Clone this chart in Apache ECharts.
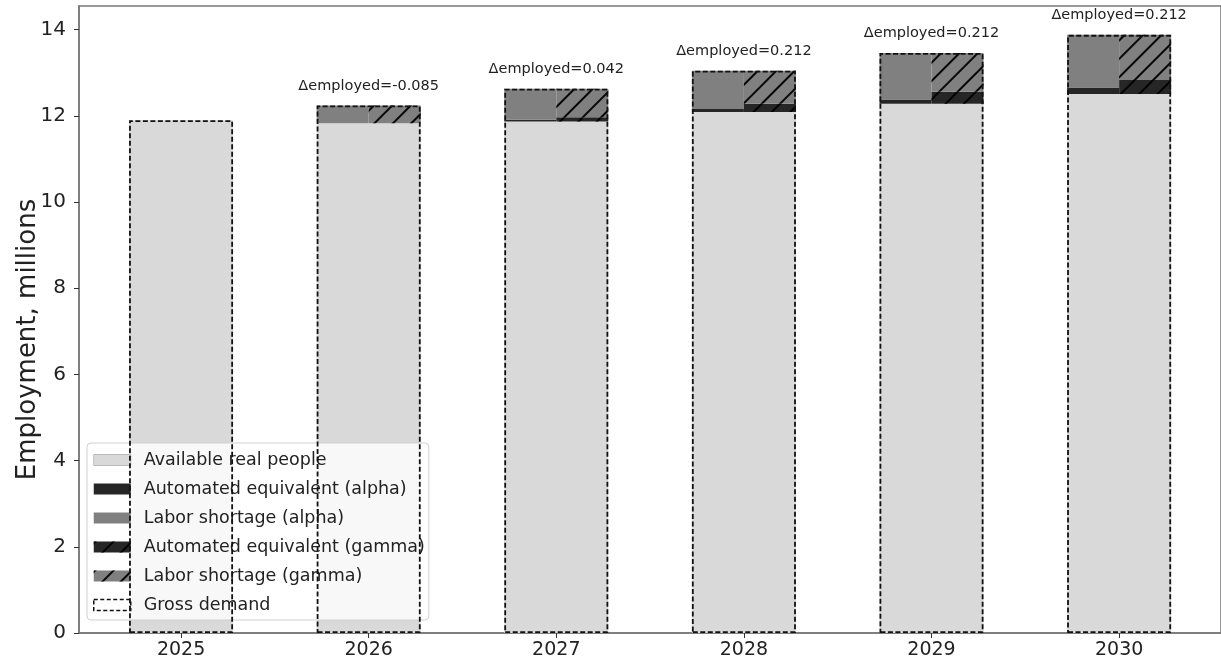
<!DOCTYPE html>
<html>
<head>
<meta charset="utf-8">
<title>Employment</title>
<script src="https://cdn.jsdelivr.net/npm/echarts@6/dist/echarts.min.js"></script>
<style>
  html, body { margin: 0; padding: 0; background: #fff; }
  #chart { width: 1221px; height: 672px; }
</style>
</head>
<body>
<div id="chart"></div>
<script>
// data (millions)
var years = ['2025', '2026', '2027', '2028', '2029', '2030']
var availablePeople = [11.90, 11.83, 11.87, 12.09, 12.28, 12.51]
var automatedAlpha = [0, 0, 0.04, 0.07, 0.10, 0.15]
var shortageAlpha = [0, 0.41, 0.72, 0.89, 1.08, 1.22]
var automatedGamma = [0, 0, 0.10, 0.19, 0.28, 0.32]
var shortageGamma = [0, 0.41, 0.66, 0.77, 0.90, 1.05]
var grossDemand = [11.90, 12.24, 12.63, 13.05, 13.46, 13.88]
var deltaLabels = ['', '\u0394employed=-0.085', '\u0394employed=0.042', '\u0394employed=0.212', '\u0394employed=0.212', '\u0394employed=0.212']
var yTicks = [0, 2, 4, 6, 8, 10, 12, 14]

var FONT = 'DejaVu Sans'
var C_LIGHT = '#d9d9d9'
var C_DARK = '#262626'
var C_MID = '#808080'
var AXIS = '#777'
var NONE = 'rgba(0,0,0,0)'

// [value, yearIndex] pairs; value comes first so the stack runs on y
// (x is a value axis too, so the plot can run past the last bar like matplotlib)
function pairs (arr) {
  return arr.map(function (v, i) { return [v, i] })
}

var hatch = {
  symbol: 'rect',
  symbolSize: 1,
  color: 'rgba(0,0,0,0.95)',
  dashArrayX: [1, 0],
  dashArrayY: [1.8, 10.2],
  rotation: -Math.PI / 4
}

// one half of a year's bar: alpha stack on the left, gamma stack on the right
function half (name, stack, data, color, decal) {
  var s = {
    name: name,
    type: 'bar',
    stack: stack,
    xAxisIndex: 0,
    encode: { x: 1, y: 0 },
    barWidth: 52,
    barGap: 0,
    silent: true,
    itemStyle: { color: color, borderWidth: 0 },
    data: pairs(data)
  }
  if (decal) s.itemStyle.decal = decal
  return s
}

// full-width bar on the second (hidden) x axis
function full (name, data, extra) {
  return Object.assign({
    name: name,
    type: 'bar',
    xAxisIndex: 1,
    encode: { x: 1, y: 0 },
    barWidth: 104,
    barGap: '-100%',
    silent: true,
    data: pairs(data)
  }, extra)
}

var chart = echarts.init(document.getElementById('chart'))

var xBase = {
  type: 'value',
  min: -0.544,
  max: 5.543,
  splitLine: { show: false }
}

chart.setOption({
  animation: false,
  grid: {
    left: 79,
    right: 0,
    top: 6,
    bottom: 39,
    outerBoundsMode: 'none',
    containLabel: false,
    show: true,
    borderColor: AXIS,
    borderWidth: 1.5,
    backgroundColor: 'transparent'
  },
  legend: {
    orient: 'vertical',
    left: 87,
    top: 443,
    padding: [8, 4, 6, 6],
    itemWidth: 37,
    itemHeight: 11,
    itemGap: 11,
    icon: 'rect',
    backgroundColor: 'rgba(255,255,255,0.82)',
    borderColor: '#d0d0d0',
    borderWidth: 1,
    borderRadius: 4,
    textStyle: {
      fontFamily: FONT,
      fontSize: 17.5,
      lineHeight: 18,
      color: '#222',
      padding: [0, 0, 0, 8]
    },
    data: [
      { name: 'Available real people', itemStyle: { color: C_LIGHT, borderColor: '#bbb', borderWidth: 1 } },
      { name: 'Automated equivalent (alpha)' },
      { name: 'Labor shortage (alpha)' },
      { name: 'Automated equivalent (gamma)' },
      { name: 'Labor shortage (gamma)' },
      {
        name: 'Gross demand',
        itemStyle: { color: NONE, borderColor: '#111', borderWidth: 1.5, borderType: [4, 2.5] }
      }
    ]
  },
  xAxis: [
    Object.assign({}, xBase, {
      axisLine: { show: true, onZero: false, lineStyle: { color: AXIS, width: 1.5 } },
      axisTick: { show: true, length: 5, customValues: [0, 1, 2, 3, 4, 5], lineStyle: { color: '#333' } },
      axisLabel: {
        customValues: [0, 1, 2, 3, 4, 5],
        formatter: function (v) { return years[Math.round(v)] },
        fontFamily: FONT,
        fontSize: 19,
        color: '#222',
        margin: 8
      }
    }),
    Object.assign({}, xBase, { show: false })
  ],
  yAxis: {
    type: 'value',
    min: 0,
    max: 14.55,
    name: 'Employment, millions',
    nameLocation: 'middle',
    nameGap: 38,
    nameMoveOverlap: false,
    nameTextStyle: { fontFamily: FONT, fontSize: 26, color: '#222', padding: [0, 40, 0, 0] },
    splitLine: { show: false },
    axisLine: { show: true, onZero: false, lineStyle: { color: AXIS, width: 1.5 } },
    axisTick: { show: true, length: 5, customValues: yTicks, lineStyle: { color: '#333' } },
    axisLabel: {
      customValues: yTicks,
      fontFamily: FONT,
      fontSize: 20,
      color: '#222',
      margin: 13
    }
  },
  series: [
    // left half: alpha stack (base is invisible, the full-width bar below shows it)
    half('Available real people', 'alpha', availablePeople, NONE),
    half('Automated equivalent (alpha)', 'alpha', automatedAlpha, C_DARK),
    half('Labor shortage (alpha)', 'alpha', shortageAlpha, C_MID),
    // right half: gamma stack
    half('Available real people', 'gamma', availablePeople, NONE),
    half('Automated equivalent (gamma)', 'gamma', automatedGamma, C_DARK, hatch),
    half('Labor shortage (gamma)', 'gamma', shortageGamma, C_MID, hatch),
    // full-width available people, drawn once so there is no seam
    full('Available real people', availablePeople, {
      z: 1,
      itemStyle: { color: C_LIGHT, borderWidth: 0 }
    }),
    // dashed outline of gross demand
    full('Gross demand', grossDemand, {
      z: 5,
      itemStyle: {
        color: NONE,
        borderColor: '#111',
        borderWidth: 1.8,
        borderType: [5, 2.5]
      },
      label: {
        show: true,
        position: 'top',
        distance: 12,
        fontFamily: FONT,
        fontSize: 14.5,
        color: '#222',
        formatter: function (p) { return deltaLabels[p.dataIndex] }
      }
    })
  ]
})

window.addEventListener('resize', function () {
  chart.resize()
})
</script>
</body>
</html>
